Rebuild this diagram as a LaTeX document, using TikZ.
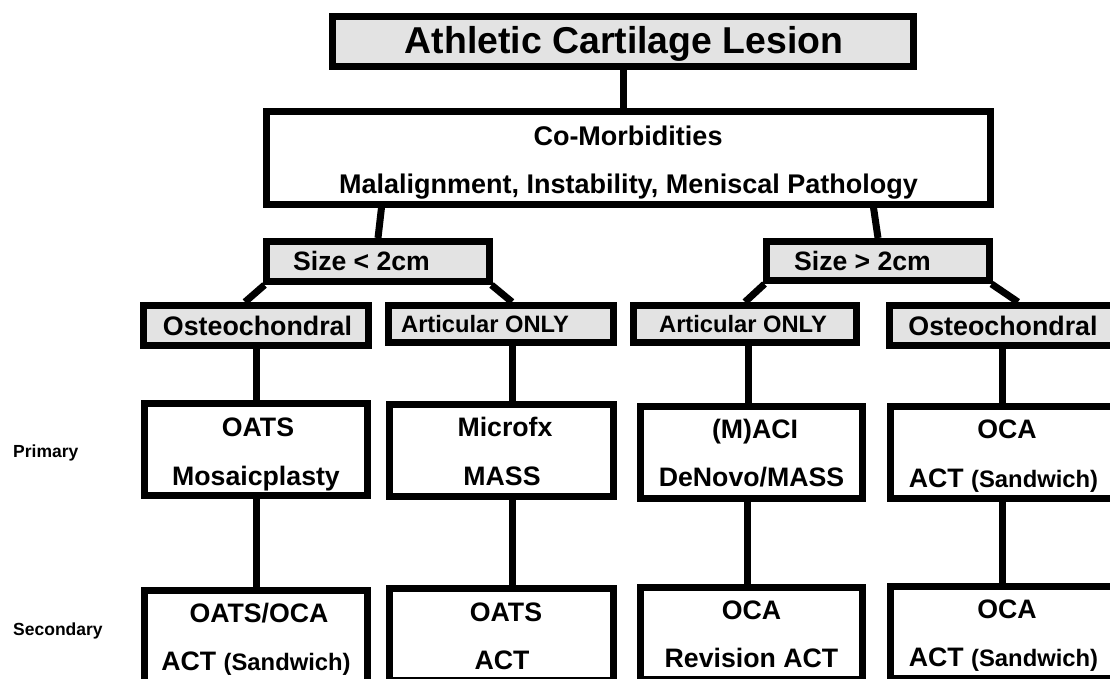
\documentclass[tikz,border=0pt]{standalone}
\usepackage{fontspec}
\setmainfont{Liberation Sans}
\usetikzlibrary{backgrounds}
\definecolor{boxgray}{RGB}{227,227,227}
\begin{document}
\begin{tikzpicture}[x=1pt,y=-1pt,
  box/.style={draw=black, line width=7pt, rectangle, inner sep=0pt, fill=white},
  gbox/.style={box, fill=boxgray},
  link/.style={line width=7pt, draw=black},
  tx/.style={inner sep=0pt, text depth=0pt},
  sT/.style={font=\bfseries\fontsize{37.4pt}{40pt}\selectfont, text height=26.8pt},
  sC/.style={font=\bfseries\fontsize{27pt}{30pt}\selectfont, text height=19.3pt},
  sS/.style={font=\bfseries\fontsize{26.6pt}{30pt}\selectfont, text height=19pt},
  sO/.style={font=\bfseries\fontsize{26.8pt}{30pt}\selectfont, text height=19.2pt},
  sA/.style={font=\bfseries\fontsize{23.7pt}{26pt}\selectfont, text height=17pt},
  sB/.style={font=\bfseries\fontsize{26.7pt}{30pt}\selectfont, text height=19.1pt},
  sL/.style={font=\bfseries\fontsize{17.5pt}{20pt}\selectfont, text height=12.5pt},
]
\newcommand{\sandw}{{\fontsize{23.8pt}{26pt}\selectfont (Sandwich)}}
\useasboundingbox (0,0) rectangle (1110,679);
\begin{pgfonlayer}{background}
\fill[white] (0,0) rectangle (1110,679);
\end{pgfonlayer}
\clip (0,0) rectangle (1110,679);

% boxes
\node[gbox, minimum width=581pt, minimum height=50pt] (title) at (623,41.5) {};
\node[box, minimum width=724pt, minimum height=92pt] (comorb) at (628.5,158) {};
\node[gbox, minimum width=223pt, minimum height=40pt] (s1) at (378,261.5) {};
\node[gbox, minimum width=223pt, minimum height=39pt] (s2) at (878,261) {};
\node[gbox, minimum width=225pt, minimum height=40pt] (o1) at (256,325.5) {};
\node[gbox, minimum width=225pt, minimum height=37pt] (a1) at (501,324) {};
\node[gbox, minimum width=223pt, minimum height=37pt] (a2) at (745,324) {};
\node[gbox, minimum width=227pt, minimum height=40pt] (o2) at (1002.5,325.5) {};
\node[box, minimum width=223pt, minimum height=92pt] (p1) at (256,449.5) {};
\node[box, minimum width=224pt, minimum height=92pt] (p2) at (501.5,450.5) {};
\node[box, minimum width=222pt, minimum height=92pt] (p3) at (751.5,452.5) {};
\node[box, minimum width=225pt, minimum height=92pt] (p4) at (1003,452.5) {};
\node[box, minimum width=223pt, minimum height=92pt] (q1) at (256,636.5) {};
\node[box, minimum width=224pt, minimum height=92pt] (q2) at (501.5,634.5) {};
\node[box, minimum width=222pt, minimum height=92pt] (q3) at (751.5,633.5) {};
\node[box, minimum width=225pt, minimum height=92pt] (q4) at (1003,632.5) {};

% connectors
\begin{pgfonlayer}{background}
\draw[link] (title.south) -- (title.south |- comorb.north);
\draw[link] ([xshift=118.5pt]comorb.south west) -- (s1.north);
\draw[link] ([xshift=-120.5pt]comorb.south east) -- (s2.north);
\draw[link] ([xshift=1.5pt]s1.south west) -- ([xshift=-11pt]o1.north);
\draw[link] ([xshift=-1.5pt]s1.south east) -- ([xshift=11pt]a1.north);
\draw[link] ([xshift=1.5pt]s2.south west) -- (a2.north);
\draw[link] ([xshift=-1.5pt]s2.south east) -- ([xshift=15.5pt]o2.north);
\draw[link] (o1.south) -- (o1.south |- p1.north);
\draw[link] ([xshift=11pt]a1.south) -- ([xshift=11pt]a1.south |- p2.north);
\draw[link] ([xshift=3pt]a2.south) -- ([xshift=3pt]a2.south |- p3.north);
\draw[link] (o2.south) -- (o2.south |- p4.north);
\draw[link] (p1.south) -- (p1.south |- q1.north);
\draw[link] ([xshift=10.5pt]p2.south) -- ([xshift=10.5pt]p2.south |- q2.north);
\draw[link] ([xshift=-4.5pt]p3.south) -- ([xshift=-4.5pt]p3.south |- q3.north);
\draw[link] ([xshift=-1pt]p4.south) -- ([xshift=-1pt]p4.south |- q4.north);
\end{pgfonlayer}

% texts
\node[tx, sT] (title-t) at (624,40) {Athletic Cartilage Lesion};
\node[tx, sC] (comorb-t1) at (628,136) {Co-Morbidities};
\node[tx, sC] (comorb-t2) at (628.5,184) {Malalignment, Instability, Meniscal Pathology};
\node[tx, sS] (s1-t) at (361.5,261) {Size < 2cm};
\node[tx, sS] (s2-t) at (862.5,261) {Size > 2cm};
\node[tx, sO] (o1-t) at (257.5,326) {Osteochondral};
\node[tx, sA] (a1-t) at (485,323.5) {Articular ONLY};
\node[tx, sA] (a2-t) at (743,323.5) {Articular ONLY};
\node[tx, sO] (o2-t) at (1003,326) {Osteochondral};

\node[tx, sB] (p1-t1) at (258,427) {OATS};
\node[tx, sB] (p1-t2) at (256,476) {Mosaicplasty};
\node[tx, sB] (p2-t1) at (505,427) {Microfx};
\node[tx, sB] (p2-t2) at (502,476) {MASS};
\node[tx, sB] (p3-t1) at (755,429) {(M)ACI};
\node[tx, sB] (p3-t2) at (751.5,477) {DeNovo/MASS};
\node[tx, sB] (p4-t1) at (1007,429) {OCA};
\node[tx, sB] (p4-t2) at (1003.5,478) {ACT \sandw};

\node[tx, sB] (q1-t1) at (259,613) {OATS/OCA};
\node[tx, sB] (q1-t2) at (256,661) {ACT \sandw};
\node[tx, sB] (q2-t1) at (506,612) {OATS};
\node[tx, sB] (q2-t2) at (502,660) {ACT};
\node[tx, sB] (q3-t1) at (751.5,610) {OCA};
\node[tx, sB] (q3-t2) at (751.5,658) {Revision ACT};
\node[tx, sB] (q4-t1) at (1007,609) {OCA};
\node[tx, sB] (q4-t2) at (1003.5,657) {ACT \sandw};

\node[tx, sL, anchor=west] (lab-prim) at (13,451) {Primary};
\node[tx, sL, anchor=west] (lab-sec) at (13,629) {Secondary};
\end{tikzpicture}
\end{document}
